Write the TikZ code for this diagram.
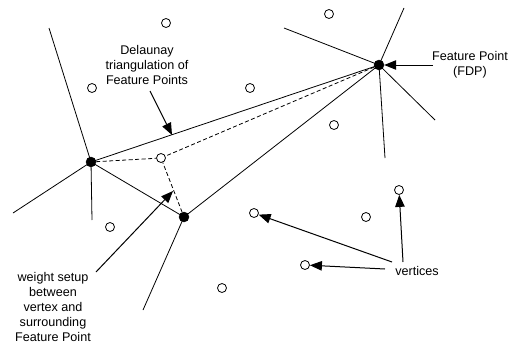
\documentclass[tikz,border=0pt]{standalone}
\usepackage{fontspec}
\setmainfont{Liberation Sans}
\usetikzlibrary{arrows.meta}
\begin{document}
\begin{tikzpicture}[x=1pt,y=-1pt,
  fp/.style={circle,fill=black,draw=black,inner sep=0pt,minimum size=10pt},
  vx/.style={circle,draw=black,fill=white,line width=0.8pt,inner sep=0pt,minimum size=9pt},
  edge/.style={line width=0.8pt},
  dedge/.style={line width=0.8pt,dash pattern=on 4pt off 2.5pt},
  lbl/.style={align=center,inner sep=0pt,font=\fontsize{12.6}{15}\selectfont},
  pointer/.style={line width=1pt,-{Triangle[length=12pt,width=9.5pt]}}]
\useasboundingbox (0,0) rectangle (519,343);
% feature points
\node[fp] (A) at (91,162) {};
\node[fp] (B) at (184,217) {};
\node[fp] (C) at (379,65) {};
% vertices
\node[vx] (v1) at (166,23) {};
\node[vx] (v2) at (92,88) {};
\node[vx] (v3) at (250,88) {};
\node[vx] (v4) at (329,14) {};
\node[vx] (v5) at (334,125) {};
\node[vx] (v6) at (161,158) {};
\node[vx] (v7) at (110,227) {};
\node[vx] (v8) at (222,288) {};
\node[vx] (v9) at (254,213) {};
\node[vx] (v10) at (399,190) {};
\node[vx] (v11) at (366,217) {};
\node[vx] (v12) at (305,265) {};
% free ends of voronoi lines
\coordinate (a1) at (49,28);
\coordinate (a2) at (13,213);
\coordinate (a3) at (92,220);
\coordinate (b1) at (143,310);
\coordinate (c1) at (404,8);
\coordinate (c2) at (284,28);
\coordinate (c3) at (435,120);
\coordinate (c4) at (385,158);
% solid lines
\draw[edge] (A.center) -- (C.center);
\draw[edge] (A.center) -- (B.center);
\draw[edge] (B.center) -- (C.center);
\draw[edge] (A.center) -- (a1);
\draw[edge] (A.center) -- (a2);
\draw[edge] (A.center) -- (a3);
\draw[edge] (B.center) -- (b1);
\draw[edge] (C.center) -- (c1);
\draw[edge] (C.center) -- (c2);
\draw[edge] (C.center) -- (c3);
\draw[edge] (C.center) -- (c4);
% dashed lines
\draw[dedge] (A) -- (v6);
\draw[dedge] (C) -- (v6);
\draw[dedge] (B) -- (v6);
% labels
\node[lbl] (ldel) at (147,65) {Delaunay\\triangulation of\\Feature Points};
\node[lbl] (lfp) at (470,65) {Feature Point\\(FDP)};
\node[lbl] (lw) at (53,307) {weight setup\\between\\vertex and\\surrounding\\Feature Point};
\node[lbl] (lv) at (417,271) {vertices};
% pointer arrows
\coordinate (pdel) at (150,91);
\coordinate (tdel) at (172,135);
\draw[pointer] (pdel) -- (tdel);
\coordinate (pfp) at (433,65);
\draw[pointer] (pfp) -- (C);
\coordinate (pw) at (96,272);
\coordinate (tw) at (173,191);
\draw[pointer] (pw) -- (tw);
\coordinate (pv1) at (392,262);
\coordinate (pv2) at (385,269);
\coordinate (pv3) at (403,262);
\draw[pointer] (pv1) -- (v9);
\draw[pointer] (pv2) -- (v12);
\draw[pointer] (pv3) -- (v10);
\end{tikzpicture}
\end{document}
